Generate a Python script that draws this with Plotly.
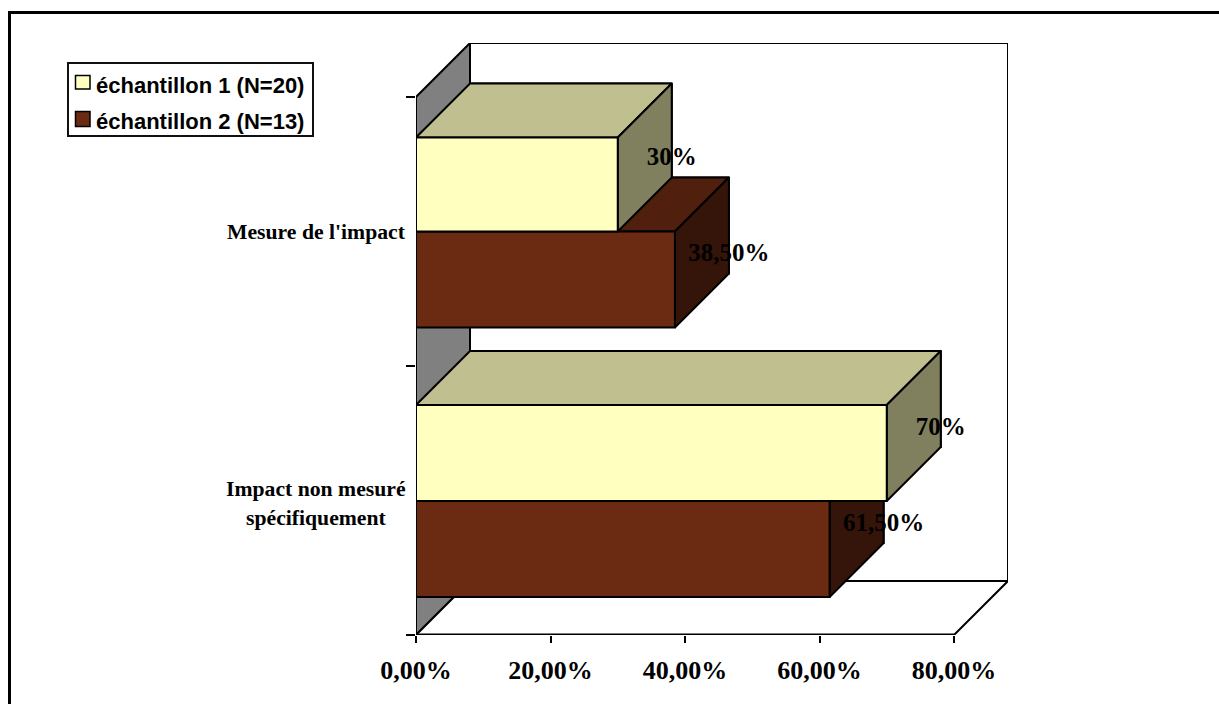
import plotly.graph_objects as go

categories = ["Impact non mesuré<br>spécifiquement", "Mesure de l'impact"]
series_names = ["échantillon 1 (N=20)", "échantillon 2 (N=13)"]
values_1 = [70, 30]
values_2 = [61.5, 38.5]
labels_1 = ["70%", "30%"]
labels_2 = ["61,50%", "38,50%"]
x_ticks = [0, 20, 40, 60, 80]
x_tick_labels = ["0,00%", "20,00%", "40,00%", "60,00%", "80,00%"]

W, H = 1219, 704
L, R, T, B = 416, 1008, 43, 635
XMAX, CATS = 80, 2
DX = XMAX * 54 / 538      # depth in x units
DY = CATS * 54 / 538      # depth in category units
GAP = 0.143               # gap at each side of a category's bars
BAR = (1 - 2 * GAP) / 2
MID_SHIFT = [-0.002, 0.0]  # slight offset of each category's bar centre
TOP_TRIM = [0.0, 0.0074]   # the upper yellow bar is a little thinner
LABEL_DROP = 0.009

SERIF = "Liberation Serif"
SANS = "Liberation Sans"
styles = [
    dict(front="#FFFFC0", top="#BFBF90", side="#80805F"),
    dict(front="#6B2A12", top="#501F0D", side="#351509"),
]
LW = 2


def px(x):
    return (x - L) / (R - L)


def py(y):
    return (B - y) / (B - T)


def poly(fig, xs, ys, fill):
    fig.add_trace(go.Scatter(
        x=xs + xs[:1], y=ys + ys[:1], mode="lines", fill="toself", fillcolor=fill,
        line=dict(color="black", width=LW), showlegend=False, hoverinfo="skip",
        cliponaxis=False))


def box(fig, value, y0, y1, st):
    poly(fig, [0 + DX, value + DX, value + DX, DX], [y1 + DY, y1 + DY, y0 + DY, y0 + DY], st["side"])
    poly(fig, [0, value, value + DX, DX], [y1, y1, y1 + DY, y1 + DY], st["top"])
    poly(fig, [value, value + DX, value + DX, value], [y0, y0 + DY, y1 + DY, y1], st["side"])
    poly(fig, [0, value, value, 0], [y0, y0, y1, y1], st["front"])


fig = go.Figure()

# walls and floor
poly(fig, [DX, XMAX + DX, XMAX + DX, DX], [DY, DY, CATS + DY, CATS + DY], "white")
poly(fig, [0, DX, DX, 0], [0, DY, CATS + DY, CATS], "#808080")
poly(fig, [0, XMAX, XMAX + DX, DX], [0, 0, DY, DY], "white")

# boxes: upper category first, second series behind the first
lab_x, lab_y, lab_t = [], [], []
for i in (1, 0):
    y_mid = i + 0.5 + MID_SHIFT[i]
    box(fig, values_2[i], y_mid - BAR, y_mid, styles[1])
    box(fig, values_1[i], y_mid, y_mid + BAR - TOP_TRIM[i], styles[0])
for i in range(2):
    y_mid = i + 0.5 + MID_SHIFT[i]
    lab_x += [values_1[i] + DX, values_2[i] + DX]
    lab_y += [y_mid + BAR / 2 + DY / 2 - LABEL_DROP, y_mid - BAR / 2 + DY / 2 - LABEL_DROP]
    lab_t += [labels_1[i], labels_2[i]]

# axis lines
fig.add_trace(go.Scatter(x=[0, XMAX], y=[0, 0], mode="lines", line=dict(color="black", width=3),
                         showlegend=False, hoverinfo="skip", cliponaxis=False))
fig.add_trace(go.Scatter(x=[0, 0], y=[0, CATS], mode="lines", line=dict(color="black", width=2),
                         showlegend=False, hoverinfo="skip", cliponaxis=False))

# value labels
fig.add_trace(go.Scatter(
    x=lab_x, y=lab_y, text=lab_t, mode="text", textposition="middle center",
    textfont=dict(family=SERIF, size=25, color="black", weight=700),
    showlegend=False, hoverinfo="skip", cliponaxis=False))

annotations = []
for i, c in enumerate(categories):
    lines = c.split("<br>")
    for k, line in enumerate(lines):
        offset = (k - (len(lines) - 1) / 2) * 29
        annotations.append(dict(
            x=0, y=i + 0.5, xref="x", yref="y", text=line, showarrow=False, xanchor="center",
            yanchor="middle", xshift=-100, yshift=-offset - (3 if len(lines) > 1 else 0),
            font=dict(family=SERIF, size=21.7, color="black", weight=700)))

shapes = [
    dict(type="rect", xref="paper", yref="paper", x0=px(8), x1=px(11), y0=py(H), y1=py(11),
         fillcolor="black", line_width=0, layer="above"),
    dict(type="rect", xref="paper", yref="paper", x0=px(8), x1=px(W), y0=py(14), y1=py(11),
         fillcolor="black", line_width=0, layer="above"),
    dict(type="rect", xref="paper", yref="paper", x0=px(68), x1=px(313), y0=py(136), y1=py(63),
         fillcolor="white", line=dict(color="#111111", width=2), layer="above"),
]

# legend box contents
for name, st, y_top, y_bot, y_txt in zip(series_names, styles, (75.5, 111.5), (89, 126.5), (85, 121)):
    shapes.append(dict(type="rect", xref="paper", yref="paper", x0=px(75.5), x1=px(90), y0=py(y_bot),
                       y1=py(y_top), fillcolor=st["front"], line=dict(color="black", width=1.5),
                       layer="above"))
    annotations.append(dict(x=px(96), y=py(y_txt), xref="paper", yref="paper", text=name,
                            showarrow=False, xanchor="left", yanchor="middle", xshift=-2,
                            font=dict(family=SANS, size=22, color="black", weight=700)))

fig.update_layout(
    width=W, height=H, paper_bgcolor="white", plot_bgcolor="white",
    margin=dict(l=L, r=W - R, t=T, b=H - B, pad=0, autoexpand=False),
    xaxis=dict(range=[0, XMAX + DX], tickmode="array", tickvals=x_ticks, ticktext=x_tick_labels,
               ticks="outside", ticklen=7, tickwidth=1.5, tickcolor="black",
               showgrid=False, zeroline=False, showline=False, ticklabelstandoff=5,
               tickfont=dict(family=SERIF, size=26, color="black", weight=700)),
    yaxis=dict(range=[0, CATS + DY], tickmode="array", tickvals=[0, 1, 2], showticklabels=False,
               ticks="outside", ticklen=9, tickwidth=1.5, tickcolor="black",
               showgrid=False, zeroline=False, showline=False),
    annotations=annotations, shapes=shapes, showlegend=False,
)

fig.write_html("out.html", config=dict(displayModeBar=False), post_script=(
    "document.body.style.margin='0';document.body.style.overflow='hidden';"))
